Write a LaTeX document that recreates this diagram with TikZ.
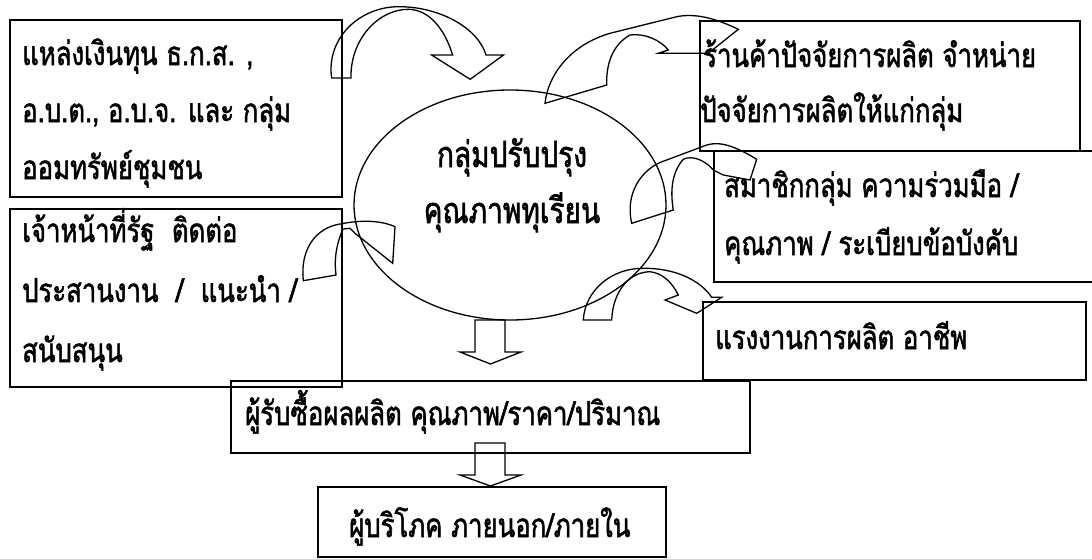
\documentclass[tikz,border=0pt]{standalone}
\usepackage{fontspec}
\usetikzlibrary{shapes.geometric}
\newfontfamily\thai[Script=Thai,FakeStretch=0.78,FakeBold=1.6]{Loma}
\begin{document}
\begin{tikzpicture}[x=1pt,y=-1pt,
  boxx/.style={draw,line width=1.6pt},
  txt/.style={font=\thai\fontsize{33}{36}\selectfont,anchor=base west,inner sep=0pt},
  bigtxt/.style={font=\thai\fontsize{36}{40}\selectfont,anchor=base,inner sep=0pt},
  arr/.style={draw,line width=1.3pt,line join=miter}]
\useasboundingbox (0,0) rectangle (1092,558);
% boxes
\draw[boxx] (10,20) rectangle (342,197) coordinate (b1);
\draw[boxx] (10,209) rectangle (342,387) coordinate (b2);
\draw[boxx] (700,21) rectangle (1080,151) coordinate (b3);
\draw[boxx] (714,151) rectangle (1100,282) coordinate (b4);
\draw[boxx] (703,302) rectangle (1086,380) coordinate (b5);
\draw[boxx] (231,381) rectangle (750,453) coordinate (b6);
\draw[boxx] (318,487) rectangle (666,557) coordinate (b7);
\node[draw,ellipse,line width=1.3pt,minimum width=312pt,minimum height=230pt,inner sep=0pt] (ell) at (510,205) {};
% texts
\node[txt] (t11) at (22,65) {แหล่งเงินทุน ธ.ก.ส. ,};
\node[txt] (t12) at (22,122) {อ.บ.ต., อ.บ.จ. และ กลุ่ม};
\node[txt] (t13) at (22,179) {ออมทรัพย์ชุมชน};
\node[txt] (t21) at (22,242) {เจ้าหน้าที่รัฐ\ \ ติดต่อ};
\node[txt] (t22) at (22,302) {ประสานงาน\ \ /\ \ แนะนำ /};
\node[txt] (t23) at (22,362) {สนับสนุน};
\node[bigtxt] (e1) at (512,167) {กลุ่มปรับปรุง};
\node[bigtxt] (e2) at (512,223) {คุณภาพทุเรียน};
\node[txt] (t31) at (703,67) {ร้านค้าปัจจัยการผลิต จำหน่าย};
\node[txt] (t32) at (700,122) {ปัจจัยการผลิตให้แก่กลุ่ม};
\node[txt] (t41) at (724,197) {สมาชิกกลุ่ม ความร่วมมือ /};
\node[txt] (t42) at (724,255) {คุณภาพ / ระเบียบข้อบังคับ};
\node[txt] (t51) at (715,349) {แรงงานการผลิต อาชีพ};
\node[txt] (t61) at (245,425) {ผู้รับซื้อผลผลิต คุณภาพ/ราคา/ปริมาณ};
\node[txt] (t71) at (349,537) {ผู้บริโภค ภายนอก/ภายใน};
% curved arrows
\draw[arr] (331.6,78) .. controls (326,38) and (360,6) .. (400,6.7)
  .. controls (440,7) and (478,28) .. (486,55) -- (503.5,55) -- (470.2,79.3)
  -- (431.6,55) -- (452.6,55) .. controls (445,30) and (430,10) .. (408.8,9.3)
  .. controls (378,9) and (350,40) .. (351,78) -- cycle;
\draw[arr] (303.3,280.7) .. controls (300,250) and (315,228) .. (340,224)
  .. controls (360,220) and (380,220) .. (395,226.7) -- (392.7,263.3)
  -- (355,233.3) -- (350,228.3) -- (343,229)
  .. controls (336,245) and (334,260) .. (336,275) -- cycle;
\draw[arr] (545,103.3) .. controls (548,75) and (570,45) .. (610,33.3)
  -- (676.7,16.7) .. controls (695,13) and (715,18) .. (738.3,29.3)
  -- (708.3,53.3) -- (658.3,53.3) -- (668.3,50)
  .. controls (660,40) and (645,33) .. (630,35)
  .. controls (612,45) and (606,65) .. (606.7,85) -- cycle;
\draw[arr] (631.7,223.3) .. controls (625,195) and (640,168) .. (666.7,160)
  -- (706.7,145) .. controls (720,141) and (735,146) .. (756.7,159.3)
  -- (750,180) -- (723.3,175) -- (713.3,170)
  .. controls (705,160) and (692,155) .. (683.3,159.3)
  .. controls (672,172) and (670,190) .. (673.3,210) -- cycle;
\draw[arr] (583.3,320) .. controls (585,290) and (612,268) .. (643.3,268.3)
  .. controls (675,268) and (700,280) .. (711.7,297.3) -- (721.7,297.3)
  -- (696.7,313.3) -- (665,300) -- (678.3,295)
  .. controls (672,282) and (662,273) .. (650,271.7)
  .. controls (630,272) and (613,290) .. (611.7,320) -- cycle;
% down block arrows
\draw[arr] (475,320) -- (505,320) -- (505,352) -- (521,352) -- (490.5,364)
  -- (460,352) -- (475,352) -- cycle;
\draw[arr] (475,443) -- (505,443) -- (505,475) -- (521,475) -- (490.5,486)
  -- (460,475) -- (475,475) -- cycle;
\end{tikzpicture}
\end{document}
